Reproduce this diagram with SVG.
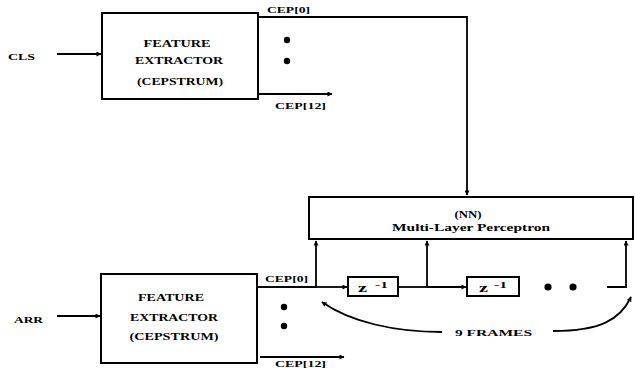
<svg xmlns="http://www.w3.org/2000/svg" width="635" height="368" viewBox="0 0 635 368">
<defs>
<marker id="ah" viewBox="0 0 10 10" refX="9" refY="5" markerWidth="6" markerHeight="5" markerUnits="userSpaceOnUse" orient="auto">
<path d="M0,0 L10,5 L0,10 z" fill="#000"/>
</marker>
<style>
.box{fill:#fff;stroke:#000;stroke-width:2}
.ln{fill:none;stroke:#000;stroke-width:1.8}
.ar{fill:none;stroke:#000;stroke-width:1.8;marker-end:url(#ah)}
text{font-family:"Liberation Serif","Times New Roman",serif;font-weight:bold;fill:#000}
.t{font-size:10px;text-anchor:middle}
.s{font-size:8.5px}
</style>
</defs>
<g id="connectors">
<line class="ar" x1="57" y1="54" x2="101" y2="54"/>
<polyline class="ar" points="258,17 467,17 467,195"/>
<line class="ar" x1="258" y1="94" x2="332" y2="94"/>
<line class="ar" x1="57" y1="316" x2="100" y2="316"/>
<line class="ln" x1="257" y1="287" x2="316" y2="287"/>
<line class="ar" x1="316" y1="287" x2="347" y2="287"/>
<line class="ar" x1="316" y1="287" x2="316" y2="241"/>
<line class="ln" x1="399" y1="287" x2="427" y2="287"/>
<line class="ar" x1="427" y1="287" x2="466" y2="287"/>
<line class="ar" x1="427" y1="287" x2="427" y2="241"/>
<polyline class="ar" points="607,287 626,287 626,241"/>
<line class="ar" x1="260" y1="357" x2="344" y2="357"/>
<path class="ar" d="M442,332 C395,332 350,322 322,302"/>
<path class="ar" d="M553,331 C600,331 620,320 631,297"/>
<circle cx="287" cy="40" r="3.2" fill="#000"/>
<circle cx="287" cy="61" r="3.2" fill="#000"/>
<circle cx="284" cy="307" r="3.2" fill="#000"/>
<circle cx="284" cy="326" r="3.2" fill="#000"/>
<circle cx="548" cy="287" r="3.6" fill="#000"/>
<circle cx="573" cy="287" r="3.6" fill="#000"/>
<text class="s" x="267" y="13" textLength="43" lengthAdjust="spacingAndGlyphs">CEP[0]</text>
<text class="s" x="275" y="109" textLength="51" lengthAdjust="spacingAndGlyphs">CEP[12]</text>
<text class="s" x="265" y="282" textLength="43" lengthAdjust="spacingAndGlyphs">CEP[0]</text>
<text class="s" x="275" y="367" textLength="51" lengthAdjust="spacingAndGlyphs">CEP[12]</text>
<text class="s" x="455" y="336" textLength="77" lengthAdjust="spacingAndGlyphs">9 FRAMES</text>
</g>
<g id="cls">
<text class="s" x="8" y="60" textLength="27" lengthAdjust="spacingAndGlyphs">CLS</text>
</g>
<g id="arr">
<text class="s" x="14" y="323" textLength="29" lengthAdjust="spacingAndGlyphs">ARR</text>
</g>
<g id="fe1">
<rect class="box" x="102" y="13" width="156" height="86"/>
<text class="t" x="177" y="47" textLength="67" lengthAdjust="spacingAndGlyphs">FEATURE</text>
<text class="t" x="179" y="64" textLength="88" lengthAdjust="spacingAndGlyphs">EXTRACTOR</text>
<text class="t" x="180" y="85" textLength="86" lengthAdjust="spacingAndGlyphs">(CEPSTRUM)</text>
</g>
<g id="fe2">
<rect class="box" x="101" y="274" width="156" height="89"/>
<text class="t" x="171" y="301" textLength="66" lengthAdjust="spacingAndGlyphs">FEATURE</text>
<text class="t" x="174" y="321" textLength="88" lengthAdjust="spacingAndGlyphs">EXTRACTOR</text>
<text class="t" x="174" y="340" textLength="89" lengthAdjust="spacingAndGlyphs">(CEPSTRUM)</text>
</g>
<g id="nn">
<rect class="box" x="309" y="197" width="324" height="42"/>
<text class="t" x="468" y="218" textLength="27" lengthAdjust="spacingAndGlyphs">(NN)</text>
<text class="t" x="471" y="231" textLength="158" lengthAdjust="spacingAndGlyphs">Multi-Layer Perceptron</text>
</g>
<g id="z1">
<rect class="box" x="348" y="277" width="50" height="19"/>
<text x="358" y="292" font-size="13" textLength="9" lengthAdjust="spacingAndGlyphs">z</text>
<text x="375" y="288" font-size="9" textLength="13" lengthAdjust="spacingAndGlyphs">-1</text>
</g>
<g id="z2">
<rect class="box" x="467" y="277" width="52" height="19"/>
<text x="479" y="292" font-size="13" textLength="9" lengthAdjust="spacingAndGlyphs">z</text>
<text x="494" y="288" font-size="9" textLength="13" lengthAdjust="spacingAndGlyphs">-1</text>
</g>
</svg>
